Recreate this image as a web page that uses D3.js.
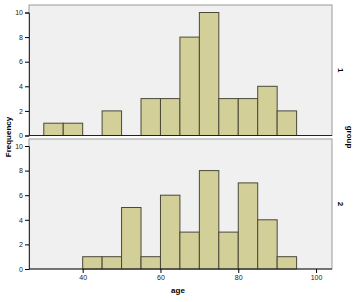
<!DOCTYPE html>
<html>
<head>
<meta charset="utf-8">
<script src="https://cdn.jsdelivr.net/npm/d3@7"></script>
<style>
  body { margin: 0; background: #fff; }
  text { font-family: Arial, "Liberation Sans", sans-serif; }
</style>
</head>
<body>
<div id="chart"></div>
<script>
const binStarts = [30, 35, 40, 45, 50, 55, 60, 65, 70, 75, 80, 85, 90];
const binWidth = 5;
const groups = ['1', '2'];
const group1Counts = [1, 1, 0, 2, 0, 3, 3, 8, 10, 3, 3, 4, 2];
const group2Counts = [0, 0, 1, 1, 5, 1, 6, 3, 8, 3, 7, 4, 1];
const xTicks = [40, 60, 80, 100];
const yTicks = [0, 2, 4, 6, 8, 10];

const width = 356;
const height = 302;
const left = 29;
const right = 332;
const panels = [
  { label: groups[0], counts: group1Counts, top: 5, bottom: 135.5 },
  { label: groups[1], counts: group2Counts, top: 139, bottom: 269 }
];

const svg = d3.select('#chart')
  .append('svg')
  .attr('width', width)
  .attr('height', height);

const x = d3.scaleLinear().domain([26.2, 104.1]).range([left, right]);

panels.forEach((panel) => {
  const y = d3.scaleLinear().domain([0, 10]).range([panel.bottom, panel.bottom - 123]);

  svg.append('rect')
    .attr('x', left)
    .attr('y', panel.top)
    .attr('width', right - left)
    .attr('height', panel.bottom - panel.top)
    .attr('fill', '#f0f0f0')
    .attr('stroke', '#9a9a9a')
    .attr('stroke-width', 1);

  const bins = binStarts.map((start, i) => ({ start, count: panel.counts[i] }))
    .filter((d) => d.count > 0);

  svg.append('g')
    .selectAll('rect')
    .data(bins)
    .join('rect')
    .attr('x', (d) => x(d.start))
    .attr('y', (d) => y(d.count))
    .attr('width', (d) => x(d.start + binWidth) - x(d.start))
    .attr('height', (d) => y(0) - y(d.count))
    .attr('fill', '#d3cf99')
    .attr('stroke', '#4a4838')
    .attr('stroke-width', 1);

  const yAxis = svg.append('g')
    .attr('transform', `translate(${left},0)`)
    .call(d3.axisLeft(y).tickValues(yTicks).tickSize(4).tickPadding(2));
  yAxis.select('.domain').attr('stroke', '#333');
  yAxis.selectAll('text').attr('font-size', 7).attr('fill', '#222');

  svg.append('line')
    .attr('x1', left).attr('x2', right)
    .attr('y1', panel.bottom).attr('y2', panel.bottom)
    .attr('stroke', '#222').attr('stroke-width', 1.2);

  svg.append('text')
    .attr('transform', `translate(${338},${(panel.top + panel.bottom) / 2}) rotate(90)`)
    .attr('text-anchor', 'middle')
    .attr('font-size', 8)
    .attr('font-weight', 'bold')
    .text(panel.label);
});

const xAxis = svg.append('g')
  .attr('transform', `translate(0,${panels[1].bottom})`)
  .call(d3.axisBottom(x).tickValues(xTicks).tickSize(4).tickPadding(2));
xAxis.select('.domain').remove();
xAxis.selectAll('text').attr('font-size', 7).attr('fill', '#222');

svg.append('text')
  .attr('x', 178)
  .attr('y', 293)
  .attr('text-anchor', 'middle')
  .attr('font-size', 8)
  .attr('font-weight', 'bold')
  .text('age');

svg.append('text')
  .attr('transform', `translate(11,${137}) rotate(-90)`)
  .attr('text-anchor', 'middle')
  .attr('font-size', 8)
  .attr('font-weight', 'bold')
  .text('Frequency');

svg.append('text')
  .attr('transform', `translate(347,${137}) rotate(90)`)
  .attr('text-anchor', 'middle')
  .attr('font-size', 8)
  .attr('font-weight', 'bold')
  .text('group');
</script>
</body>
</html>
